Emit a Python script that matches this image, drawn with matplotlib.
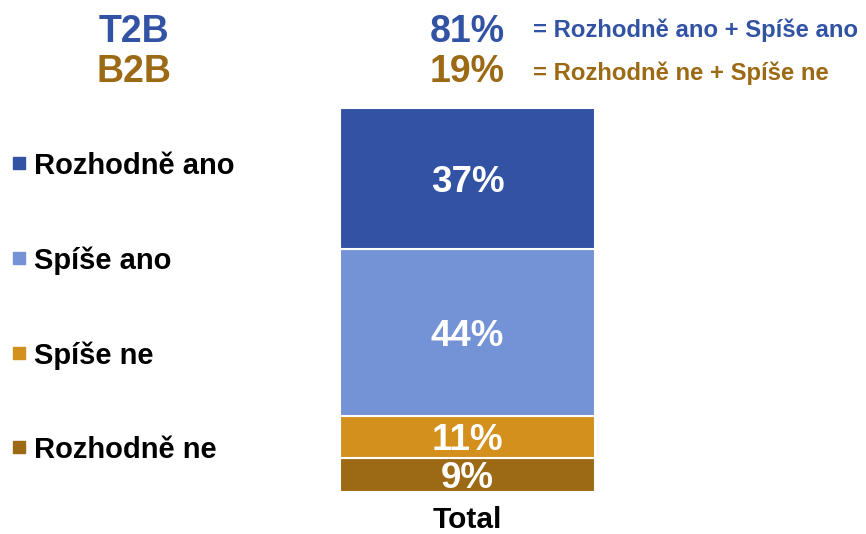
import matplotlib
matplotlib.use('Agg')
import matplotlib.pyplot as plt
from matplotlib.patches import Rectangle

plt.rcParams['font.family'] = ['Liberation Sans', 'DejaVu Sans']
plt.rcParams['font.weight'] = 'bold'

# data
categories = ['Rozhodně ne', 'Spíše ne', 'Spíše ano', 'Rozhodně ano']
values = [9, 11, 44, 37]
colors = ['#9C6914', '#D4901C', '#7393D6', '#3253A3']
group = 'Total'
t2b = 81
b2b = 19

W, H = 866, 534
fig = plt.figure(figsize=(W / 100, H / 100), dpi=100)

def fx(x):
    return x / W

def fy(y):
    return 1 - y / H

# bar axes: left 340, right 595, top 108, bottom 492 (px)
ax = fig.add_axes([fx(340), fy(492), fx(595) - fx(340), fy(108) - fy(492)])
bottom = 0
for cat, v, c in zip(categories, values, colors):
    ax.bar(0, v, bottom=bottom, width=1.0, color=c, edgecolor='white', linewidth=1.5)
    ax.text(0, bottom + v / 2, f'{v}%', ha='center', va='center_baseline',
            color='white', fontsize=26.5, fontweight='bold')
    bottom += v
ax.set_xlim(-0.5, 0.5)
ax.set_ylim(0, sum(values))
ax.axis('off')

fig.text(fx(467), fy(528), group, ha='center', va='baseline', fontsize=21.5, fontweight='bold')

# legend on the left, top to bottom
leg_y = [163, 258, 353, 447]
for y, cat, c in zip(leg_y, categories[::-1], colors[::-1]):
    fig.patches.append(Rectangle((fx(13), fy(y + 6)), fx(12), fy(0) - fy(12),
                                 transform=fig.transFigure, color=c))
    fig.text(fx(34), fy(y), cat, ha='left', va='center_baseline', fontsize=21, fontweight='bold')

# header
blue = '#3253A3'
brown = '#9C6914'
fig.text(fx(134), fy(28), 'T2B', ha='center', va='center_baseline', fontsize=27, color=blue)
fig.text(fx(134), fy(68), 'B2B', ha='center', va='center_baseline', fontsize=27, color=brown)
fig.text(fx(505), fy(28), f'{t2b}%', ha='right', va='center_baseline', fontsize=27, color=blue)
fig.text(fx(505), fy(68), f'{b2b}%', ha='right', va='center_baseline', fontsize=27, color=brown)
fig.text(fx(533), fy(28), '= Rozhodně ano + Spíše ano', ha='left', va='center_baseline', fontsize=17.2, color=blue)
fig.text(fx(533), fy(71), '= Rozhodně ne + Spíše ne', ha='left', va='center_baseline', fontsize=17.2, color=brown)

fig.savefig('out.png', dpi=100)
